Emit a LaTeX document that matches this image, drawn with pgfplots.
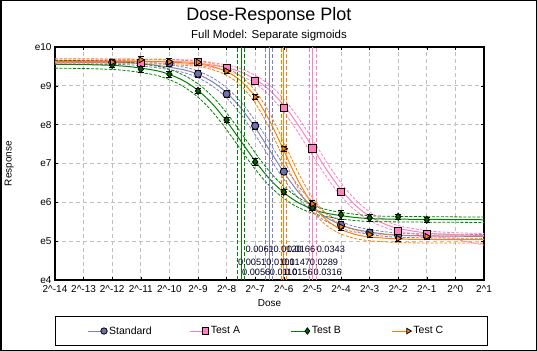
\documentclass[border=0pt]{standalone}
\usepackage{pgfplots}
\pgfplotsset{compat=1.18}
\usepackage{fontspec}
\setmainfont{Liberation Sans}
\definecolor{cStd}{RGB}{128,128,192}
\definecolor{cA}{RGB}{255,128,192}
\definecolor{cB}{RGB}{0,128,0}
\definecolor{cC}{RGB}{255,128,0}
\definecolor{fStd}{RGB}{112,112,176}
\definecolor{fB}{RGB}{0,96,0}
\pgfplotsset{
  band/.style={line width=0.8bp, dash pattern=on 3bp off 1.5bp},
  fit/.style={line width=1bp},
  ecline/.style={line width=1bp},
  ecci/.style={line width=1bp, dash pattern=on 4bp off 2bp},
  pts/.style={only marks, mark size=3.6bp,
    /pgfplots/error bars/y dir=both, /pgfplots/error bars/y explicit,
    /pgfplots/error bars/error bar style={black, line width=0.8bp, solid},
    /pgfplots/error bars/error mark options={rotate=90, mark size=3bp, black, line width=0.8bp}},
}
\begin{document}
\begin{tikzpicture}
\useasboundingbox (0,0) rectangle (537bp,351bp);
\draw[black, line width=1.5bp] (0.75bp,0.75bp) rectangle (536.25bp,350.25bp);
\node[anchor=base, font=\fontsize{18bp}{20bp}\selectfont] at (269bp,330bp) {Dose-Response Plot};
\node[anchor=base, font=\fontsize{11.5bp}{13bp}\selectfont] at (269bp,312bp) {Full Model: Separate sigmoids};
\begin{axis}[
  at={(55bp,71bp)}, anchor=south west, scale only axis,
  width=429bp, height=233bp,
  xmin=-14, xmax=1, ymin=4, ymax=10,
  xtick={-14,-13,...,1},
  xticklabels={2\textasciicircum-14,2\textasciicircum-13,2\textasciicircum-12,2\textasciicircum-11,2\textasciicircum-10,2\textasciicircum-9,2\textasciicircum-8,2\textasciicircum-7,2\textasciicircum-6,2\textasciicircum-5,2\textasciicircum-4,2\textasciicircum-3,2\textasciicircum-2,2\textasciicircum-1,2\textasciicircum0,2\textasciicircum1},
  ytick={4,5,...,10},
  yticklabels={e4,e5,e6,e7,e8,e9,e10},
  tick label style={font=\fontsize{10bp}{12bp}\selectfont, black},
  xticklabel style={yshift=-2bp},
  xmajorgrids, ymajorgrids,
  grid style={draw=black!25, dash pattern=on 4bp off 3bp, line width=0.7bp},
  axis line style={black, line width=1.2bp},
  tick style={black, line width=0.6bp}, major tick length=3bp, tick align=inside,
  xlabel={Dose}, ylabel={Response},
  label style={font=\fontsize{10bp}{12bp}\selectfont},
  xlabel style={at={(axis description cs:0.5,-0.0987)}, anchor=center},
  ylabel style={at={(axis description cs:-0.107,0.5)}, anchor=center},
  legend columns=4,
  legend style={at={(axis description cs:0,-0.1545)}, anchor=north west,
    draw=black, line width=1bp, inner xsep=3bp, inner ysep=8bp,
    font=\fontsize{10.5bp}{12bp}\selectfont, cells={anchor=west}},
  legend image code/.code={\path (-29bp,0bp); \draw[mark repeat=2, mark phase=2, line width=1bp, #1] plot coordinates {(0bp,0bp) (16bp,0bp)};},
]
% ---------- Standard ----------
\addplot[cStd, band, smooth, forget plot] coordinates {(-14,9.650) (-11.39,9.647) (-10.39,9.584) (-9.39,9.466) (-8.89,9.348) (-8.39,9.161) (-7.89,8.882) (-7.39,8.489) (-6.89,7.985) (-6.39,7.410) (-5.89,6.835) (-5.39,6.331) (-4.89,5.938) (-4.39,5.659) (-3.89,5.472) (-3.39,5.354) (-2.39,5.236) (-1.39,5.193) (1,5.172)};
\addplot[cStd, band, smooth, forget plot] coordinates {(-14,9.550) (-11.63,9.547) (-10.63,9.484) (-9.63,9.366) (-9.13,9.248) (-8.63,9.061) (-8.13,8.782) (-7.63,8.389) (-7.13,7.885) (-6.63,7.310) (-6.13,6.735) (-5.63,6.231) (-5.13,5.838) (-4.63,5.559) (-4.13,5.372) (-3.63,5.254) (-2.63,5.136) (-1.63,5.093) (1,5.072)};
\addplot[cStd, fit, smooth, forget plot] coordinates {(-14,9.600) (-11.51,9.597) (-10.51,9.534) (-9.51,9.416) (-9.01,9.298) (-8.51,9.111) (-8.01,8.832) (-7.51,8.439) (-7.01,7.935) (-6.51,7.360) (-6.01,6.785) (-5.51,6.281) (-5.01,5.888) (-4.51,5.609) (-4.01,5.422) (-3.51,5.304) (-2.51,5.186) (-1.51,5.143) (1,5.122)};
% ---------- Test A ----------
\addplot[cA, band, smooth, forget plot] coordinates {(-14,9.700) (-9.85,9.677) (-8.85,9.633) (-7.85,9.515) (-7.35,9.396) (-6.85,9.208) (-6.35,8.927) (-5.85,8.531) (-5.35,8.024) (-4.85,7.445) (-4.35,6.866) (-3.85,6.359) (-3.35,5.963) (-2.85,5.682) (-2.35,5.494) (-1.85,5.375) (-0.85,5.257) (0.15,5.213) (1,5.198)};
\addplot[cA, band, smooth, forget plot] coordinates {(-14,9.600) (-10.11,9.577) (-9.11,9.533) (-8.11,9.415) (-7.61,9.296) (-7.11,9.108) (-6.61,8.827) (-6.11,8.431) (-5.61,7.924) (-5.11,7.345) (-4.61,6.766) (-4.11,6.259) (-3.61,5.863) (-3.11,5.582) (-2.61,5.394) (-2.11,5.275) (-1.11,5.150) (-0.11,5.060) (1,4.900)};
\addplot[cA, fit, smooth, forget plot] coordinates {(-14,9.650) (-9.98,9.627) (-8.98,9.583) (-7.98,9.465) (-7.48,9.346) (-6.98,9.158) (-6.48,8.877) (-5.98,8.481) (-5.48,7.974) (-4.98,7.395) (-4.48,6.816) (-3.98,6.309) (-3.48,5.913) (-2.98,5.632) (-2.48,5.444) (-1.98,5.325) (-0.98,5.207) (0.02,5.163) (1,5.148)};
% ---------- Test B ----------
\addplot[cB, band, smooth, forget plot] coordinates {(-14,9.656) (-12.35,9.639) (-11.35,9.601) (-10.35,9.494) (-9.85,9.387) (-9.35,9.219) (-8.85,8.967) (-8.35,8.613) (-7.85,8.158) (-7.35,7.640) (-6.85,7.122) (-6.35,6.667) (-5.85,6.313) (-5.35,6.060) (-4.85,5.893) (-4.35,5.786) (-3.35,5.679) (-2.35,5.641) (1,5.621)};
\addplot[cB, band, smooth, forget plot] coordinates {(-14,9.456) (-12.61,9.439) (-11.61,9.401) (-10.61,9.296) (-10.11,9.191) (-9.61,9.025) (-9.11,8.777) (-8.61,8.429) (-8.11,7.980) (-7.61,7.470) (-7.11,6.960) (-6.61,6.511) (-6.11,6.163) (-5.61,5.914) (-5.11,5.749) (-4.61,5.644) (-3.61,5.539) (-2.61,5.501) (1,5.481)};
\addplot[cB, fit, smooth, forget plot] coordinates {(-14,9.556) (-12.48,9.539) (-11.48,9.501) (-10.48,9.395) (-9.98,9.289) (-9.48,9.122) (-8.98,8.872) (-8.48,8.521) (-7.98,8.069) (-7.48,7.555) (-6.98,7.041) (-6.48,6.589) (-5.98,6.238) (-5.48,5.987) (-4.98,5.821) (-4.48,5.715) (-3.48,5.609) (-2.48,5.571) (1,5.551)};
% ---------- Test C ----------
\addplot[cC, band, smooth, forget plot] coordinates {(-14,9.690) (-10.91,9.686) (-9.91,9.673) (-8.91,9.622) (-8.41,9.557) (-7.91,9.429) (-7.41,9.192) (-6.91,8.788) (-6.41,8.177) (-5.91,7.410) (-5.41,6.643) (-4.91,6.032) (-4.41,5.628) (-3.91,5.391) (-3.41,5.263) (-2.91,5.198) (-1.91,5.147) (-0.91,5.134) (1,5.130)};
\addplot[cC, band, smooth, forget plot] coordinates {(-14,9.570) (-11.09,9.566) (-10.09,9.553) (-9.09,9.502) (-8.59,9.435) (-8.09,9.305) (-7.59,9.066) (-7.09,8.656) (-6.59,8.037) (-6.09,7.260) (-5.59,6.483) (-5.09,5.864) (-4.59,5.454) (-4.09,5.215) (-3.59,5.085) (-3.09,5.018) (-2.09,4.967) (-1.09,4.954) (1,4.950)};
\addplot[cC, fit, smooth, forget plot] coordinates {(-14,9.630) (-11,9.626) (-10,9.613) (-9,9.562) (-8.5,9.496) (-8,9.367) (-7.5,9.129) (-7,8.722) (-6.5,8.107) (-6,7.335) (-5.5,6.563) (-5,5.948) (-4.5,5.541) (-4,5.303) (-3.5,5.174) (-3,5.108) (-2,5.057) (-1,5.044) (1,5.040)};
% ---------- EC50 lines ----------
\addplot[cB, ecci, forget plot] coordinates {(-7.62,4) (-7.62,10)};
\addplot[cB, ecline, forget plot] coordinates {(-7.48,4) (-7.48,10)};
\addplot[cB, ecci, forget plot] coordinates {(-7.36,4) (-7.36,10)};
\addplot[cStd, ecci, forget plot] coordinates {(-6.63,4) (-6.63,10)};
\addplot[cStd, ecline, forget plot] coordinates {(-6.51,4) (-6.51,10)};
\addplot[cStd, ecci, forget plot] coordinates {(-6.38,4) (-6.38,10)};
\addplot[cC, ecci, forget plot] coordinates {(-6.09,4) (-6.09,10)};
\addplot[cC, ecline, forget plot] coordinates {(-6.00,4) (-6.00,10)};
\addplot[cC, ecci, forget plot] coordinates {(-5.91,4) (-5.91,10)};
\addplot[cA, ecci, forget plot] coordinates {(-5.11,4) (-5.11,10)};
\addplot[cA, ecline, forget plot] coordinates {(-4.98,4) (-4.98,10)};
\addplot[cA, ecci, forget plot] coordinates {(-4.87,4) (-4.87,10)};
% ---------- EC50 labels ----------
\begin{scope}[every node/.style={anchor=base west, inner sep=0.5bp, font=\fontsize{9.2bp}{10bp}\selectfont, text=black!85!blue}]
\node at (axis cs:-7.36,4.70) {0.0061};
\node at (axis cs:-6.38,4.70) {0.0120};
\node at (axis cs:-5.91,4.70) {0.0166};
\node at (axis cs:-4.87,4.70) {0.0343};
\node at (axis cs:-7.62,4.37) {0.0051};
\node at (axis cs:-6.63,4.37) {0.0101};
\node at (axis cs:-6.09,4.37) {0.0147};
\node at (axis cs:-5.11,4.37) {0.0289};
\node at (axis cs:-7.48,4.11) {0.0056};
\node at (axis cs:-6.51,4.11) {0.0110};
\node at (axis cs:-6.00,4.11) {0.0156};
\node at (axis cs:-4.98,4.11) {0.0316};
\end{scope}
% ---------- data points ----------
\addplot[pts, mark=*, mark options={fill=fStd, draw=black, line width=0.8bp}, forget plot] table[x=x, y=y, y error=e] {
x y e
-12 9.60 0.07
-11 9.58 0.07
-10 9.58 0.07
-9 9.31 0.08
-8 8.79 0.08
-7 7.97 0.08
-6 6.79 0.08
-5 5.88 0.08
-4 5.42 0.08
-3 5.22 0.08
-2 5.15 0.07
-1 5.13 0.07
};
\addplot[pts, mark=square*, mark options={fill=cA, draw=black, line width=0.8bp}, forget plot] table[x=x, y=y, y error=e] {
x y e
-11 9.59 0.08
-9 9.61 0.07
-8 9.46 0.07
-7 9.13 0.07
-6 8.43 0.07
-5 7.39 0.07
-4 6.27 0.07
-2 5.27 0.08
-1 5.19 0.07
};
\addplot[pts, mark=diamond*, mark options={fill=fB, draw=black, line width=0.8bp}, forget plot] table[x=x, y=y, y error=e] {
x y e
-12 9.54 0.07
-11 9.43 0.08
-10 9.30 0.07
-9 8.87 0.07
-8 8.12 0.07
-7 7.04 0.08
-6 6.27 0.07
-5 5.86 0.08
-4 5.68 0.11
-3 5.60 0.09
-2 5.63 0.07
-1 5.55 0.07
};
\addplot[pts, mark=triangle*, mark options={rotate=-90, fill=cC, draw=black, line width=0.8bp}, forget plot] table[x=x, y=y, y error=e] {
x y e
-12 9.61 0.08
-11 9.67 0.09
-10 9.62 0.08
-9 9.61 0.07
-8 9.38 0.07
-7 8.71 0.07
-6 7.38 0.07
-5 5.96 0.08
-4 5.37 0.08
-3 5.17 0.08
-2 5.07 0.07
-1 5.12 0.07
};
% ---------- legend ----------
\addlegendimage{cStd, mark=*, mark size=3.2bp, mark options={fill=fStd, draw=black, line width=0.8bp, solid}}
\addlegendentry{\makebox[49bp][l]{Standard}}
\addlegendimage{cA, mark=square*, mark size=3.2bp, mark options={fill=cA, draw=black, line width=0.8bp, solid}}
\addlegendentry{\makebox[49bp][l]{Test A}}
\addlegendimage{cB, mark=diamond*, mark size=3.2bp, mark options={fill=fB, draw=black, line width=0.8bp, solid}}
\addlegendentry{\makebox[49bp][l]{Test B}}
\addlegendimage{cC, mark=triangle*, mark size=3.2bp, mark options={rotate=-90, fill=cC, draw=black, line width=0.8bp, solid}}
\addlegendentry{\makebox[69bp][l]{Test C}}
\end{axis}
\end{tikzpicture}
\end{document}
